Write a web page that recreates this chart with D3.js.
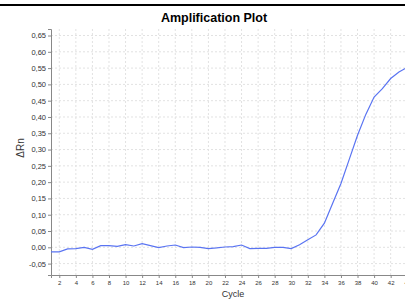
<!DOCTYPE html>
<html>
<head>
<meta charset="utf-8">
<script src="https://cdn.jsdelivr.net/npm/d3@7"></script>
<style>
  body { margin: 0; background: white; overflow: hidden; }
  text { font-family: "Liberation Sans", Arial, sans-serif; }
</style>
</head>
<body>
<div id="chart"></div>
<script>
// Cycle numbers and delta Rn values
const cycles = d3.range(1, 45);
const deltaRn = [
  -0.014, -0.014, -0.005, -0.004, 0.000, -0.006, 0.005, 0.005, 0.003, 0.008,
  0.004, 0.011, 0.005, -0.001, 0.004, 0.007, -0.001, 0.001, 0.000, -0.004,
  -0.002, 0.001, 0.002, 0.007, -0.004, -0.003, -0.003, 0.000, 0.000, -0.004,
  0.008, 0.023, 0.038, 0.074, 0.135, 0.196, 0.270, 0.344, 0.408, 0.461,
  0.487, 0.518, 0.538, 0.552
];
const xTicks = d3.range(2, 46, 2);
const yTicks = d3.range(-0.05, 0.651, 0.05);

const data = cycles.map((c, i) => ({ cycle: c, value: deltaRn[i] }));

let width = 405, height = 299;
let margin = { top: 29, bottom: 24, left: 51, right: 0 };

let svg = d3.select("#chart")
    .append("svg")
    .attr("width", width)
    .attr("height", height)
    .style("background", "white");

// black rule along the top
svg.append("rect")
    .attr("x", 0)
    .attr("y", 4)
    .attr("width", width)
    .attr("height", 2)
    .attr("fill", "black");

// title
svg.append("text")
    .attr("x", 214)
    .attr("y", 22)
    .attr("text-anchor", "middle")
    .style("font-size", "12.5px")
    .style("font-weight", "bold")
    .text("Amplification Plot");

// scales
let x = d3.scaleLinear()
    .domain([1, 43.73])
    .range([margin.left, width - margin.right]);

let y = d3.scaleLinear()
    .domain([-0.085, 0.67])
    .range([height - margin.bottom, margin.top]);

// grid
svg.append("g")
    .selectAll("line")
    .data(xTicks)
    .enter()
    .append("line")
    .attr("x1", d => x(d))
    .attr("x2", d => x(d))
    .attr("y1", margin.top)
    .attr("y2", height - margin.bottom)
    .attr("stroke", "#e2e2e2")
    .attr("stroke-dasharray", "2,2");

svg.append("g")
    .selectAll("line")
    .data(yTicks)
    .enter()
    .append("line")
    .attr("x1", margin.left)
    .attr("x2", width)
    .attr("y1", d => y(d))
    .attr("y2", d => y(d))
    .attr("stroke", "#e2e2e2")
    .attr("stroke-dasharray", "2,2");

// axes
let xAxis = svg.append("g")
    .attr("transform", `translate(0,${height - margin.bottom})`)
    .call(d3.axisBottom(x).tickValues(xTicks).tickSize(3).tickPadding(3));

let yAxis = svg.append("g")
    .attr("transform", `translate(${margin.left},0)`)
    .call(d3.axisLeft(y).tickValues(yTicks).tickSize(3).tickPadding(2)
        .tickFormat(d => d3.format(".2f")(d).replace(".", ",").replace("−", "-")));

xAxis.selectAll("text").style("font-size", "6px").attr("fill", "#333");
yAxis.selectAll("text").style("font-size", "7.5px").attr("fill", "#333");
svg.selectAll(".domain").attr("stroke", "#888");
svg.selectAll(".tick line").attr("stroke", "#888");

// axis labels
svg.append("text")
    .attr("x", 233)
    .attr("y", 297)
    .attr("text-anchor", "middle")
    .style("font-size", "9px")
    .attr("fill", "#333")
    .text("Cycle");

svg.append("text")
    .attr("transform", "rotate(-90)")
    .attr("x", -148)
    .attr("y", 24)
    .attr("text-anchor", "middle")
    .style("font-size", "10px")
    .attr("fill", "#333")
    .text("ΔRn");

// curve
let line = d3.line()
    .x(d => x(d.cycle))
    .y(d => y(d.value));

svg.append("path")
    .datum(data)
    .attr("fill", "none")
    .attr("stroke", "#5a74f2")
    .attr("stroke-width", 1.2)
    .attr("d", line);
</script>
</body>
</html>
